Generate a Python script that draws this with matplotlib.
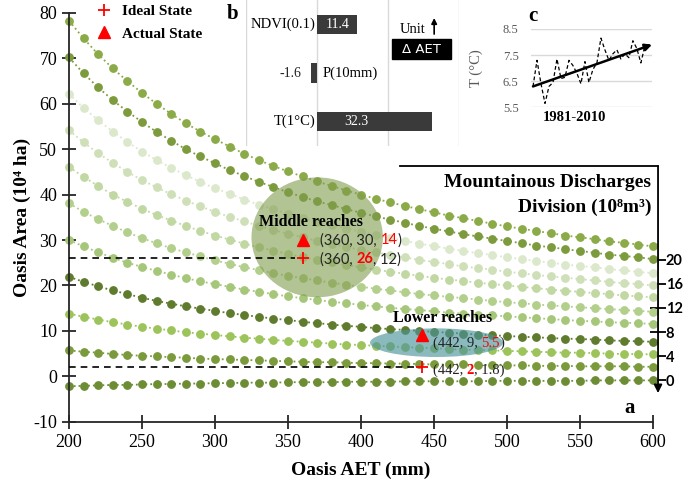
import numpy as np
import matplotlib.pyplot as plt
from matplotlib.patches import Ellipse, Rectangle

plt.rcParams['font.family'] = ['Liberation Serif', 'DejaVu Serif']
plt.rcParams['axes.unicode_minus'] = False

#-----------------------------------------------------------------------------
# Dados

aet = np.arange(200, 601, 10)

area_s1 = [78.3, 74.4, 70.9, 67.8, 65.0, 62.4, 60.0, 57.8, 55.7, 53.9, 52.2, 50.6, 49.0, 47.6, 46.3, 45.1, 44.0, 42.9, 41.9, 40.9, 40.0,
           39.1, 38.3, 37.5, 36.8, 36.1, 35.4, 34.8, 34.2, 33.6, 33.0, 32.5, 32.0, 31.5, 31.0, 30.6, 30.2, 29.7, 29.4, 29.0, 28.6]
area_s2 = [70.2, 66.7, 63.6, 60.8, 58.3, 56.0, 53.8, 51.9, 50.0, 48.4, 46.9, 45.4, 44.1, 42.8, 41.7, 40.5, 39.5, 38.5, 37.7, 36.8, 36.0,
           35.2, 34.5, 33.8, 33.1, 32.5, 31.9, 31.3, 30.8, 30.3, 29.8, 29.3, 28.8, 28.4, 28.0, 27.6, 27.2, 26.8, 26.5, 26.2, 25.8]
area_s3 = [62.2, 59.1, 56.4, 53.9, 51.6, 49.5, 47.6, 45.9, 44.3, 42.8, 41.4, 40.2, 38.9, 37.8, 36.8, 35.8, 34.9, 34.0, 33.3, 32.5, 31.8,
           31.1, 30.4, 29.8, 29.2, 28.7, 28.1, 27.6, 27.1, 26.7, 26.2, 25.8, 25.4, 25.0, 24.6, 24.3, 24.0, 23.6, 23.3, 23.0, 22.7]
area_s4 = [54.2, 51.5, 49.1, 47.0, 45.0, 43.2, 41.6, 40.1, 38.7, 37.4, 36.2, 35.1, 34.1, 33.1, 32.2, 31.4, 30.6, 29.8, 29.1, 28.5, 27.8,
           27.3, 26.7, 26.2, 25.6, 25.2, 24.7, 24.2, 23.8, 23.5, 23.0, 22.7, 22.3, 22.0, 21.7, 21.4, 21.1, 20.8, 20.5, 20.3, 20.0]
area_s5 = [46.1, 43.9, 41.9, 40.0, 38.4, 36.9, 35.5, 34.3, 33.1, 32.0, 31.0, 30.1, 29.2, 28.4, 27.7, 26.9, 26.3, 25.6, 25.1, 24.5, 24.0,
           23.5, 23.0, 22.6, 22.1, 21.7, 21.3, 21.0, 20.6, 20.3, 20.0, 19.7, 19.4, 19.1, 18.8, 18.6, 18.3, 18.1, 17.8, 17.6, 17.4]
area_s6 = [38.1, 36.2, 34.6, 33.1, 31.7, 30.4, 29.3, 28.2, 27.3, 26.4, 25.5, 24.8, 24.0, 23.4, 22.7, 22.1, 21.6, 21.1, 20.6, 20.1, 19.7,
           19.3, 18.9, 18.5, 18.1, 17.8, 17.5, 17.2, 16.9, 16.6, 16.3, 16.1, 15.8, 15.6, 15.4, 15.2, 15.0, 14.8, 14.6, 14.4, 14.2]
area_s7 = [30.0, 28.6, 27.3, 26.1, 25.0, 24.1, 23.2, 22.4, 21.6, 20.9, 20.3, 19.7, 19.1, 18.6, 18.1, 17.6, 17.2, 16.8, 16.4, 16.1, 15.7,
           15.4, 15.1, 14.8, 14.6, 14.3, 14.0, 13.8, 13.6, 13.4, 13.2, 13.0, 12.8, 12.6, 12.4, 12.2, 12.1, 11.9, 11.8, 11.7, 11.5]
area_s8 = [21.9, 20.8, 19.8, 18.9, 18.1, 17.3, 16.6, 16.0, 15.4, 14.9, 14.4, 13.9, 13.5, 13.1, 12.7, 12.4, 12.0, 11.7, 11.4, 11.1, 10.9,
           10.6, 10.4, 10.2, 10.0, 9.8, 9.6, 9.4, 9.2, 9.0, 8.9, 8.7, 8.6, 8.4, 8.3, 8.2, 8.1, 7.9, 7.8, 7.7, 7.6]
area_s9 = [13.8, 13.1, 12.5, 11.9, 11.4, 10.9, 10.5, 10.1, 9.7, 9.4, 9.1, 8.8, 8.5, 8.3, 8.0, 7.8, 7.6, 7.4, 7.2, 7.0, 6.9,
           6.7, 6.6, 6.4, 6.3, 6.2, 6.0, 5.9, 5.8, 5.7, 5.6, 5.5, 5.4, 5.3, 5.2, 5.2, 5.1, 5.0, 4.9, 4.9, 4.8]
area_s10 = [5.7, 5.4, 5.2, 4.9, 4.7, 4.5, 4.4, 4.2, 4.1, 3.9, 3.8, 3.7, 3.6, 3.5, 3.4, 3.3, 3.2, 3.1, 3.1, 3.0, 2.9,
            2.9, 2.8, 2.8, 2.7, 2.6, 2.6, 2.6, 2.5, 2.5, 2.4, 2.4, 2.3, 2.3, 2.3, 2.2, 2.2, 2.2, 2.2, 2.1, 2.1]
area_s11 = [-2.2, -2.1, -2.0, -1.9, -1.9, -1.8, -1.7, -1.7, -1.6, -1.6, -1.5, -1.5, -1.4, -1.4, -1.4, -1.3, -1.3, -1.3, -1.3, -1.2, -1.2,
            -1.2, -1.2, -1.1, -1.1, -1.1, -1.1, -1.1, -1.1, -1.0, -1.0, -1.0, -1.0, -1.0, -1.0, -1.0, -0.9, -0.9, -0.9, -0.9, -0.9]

series = [area_s1, area_s2, area_s3, area_s4, area_s5, area_s6, area_s7, area_s8, area_s9, area_s10, area_s11]
cores = ['#8aab48', '#7c9b3d', '#dce8cc', '#cfe0b9', '#c1d8a2', '#b2cf8b',
         '#a6c77a', '#5f7b2d', '#9cc45b', '#7a9a3c', '#6d8d35']

ideal_x = [360, 442]
ideal_y = [26, 2]
actual_x = [360, 442]
actual_y = [30, 9]

discharge_ticks = [0, 4, 8, 12, 16, 20]

b_labels = ['NDVI(0.1)', 'P(10mm)', 'T(1°C)']
b_values = [11.4, -1.6, 32.3]

anos = np.arange(1981, 2011)
temp = [6.3, 7.3, 6.4, 5.65, 6.3, 6.45, 7.35, 6.6, 6.65, 7.3, 7.1, 6.8, 6.4, 7.25, 6.45,
        6.95, 7.2, 8.15, 7.7, 7.3, 7.55, 7.7, 7.35, 7.55, 7.4, 8.05, 7.75, 7.2, 7.85, 7.9]
tendencia = [6.3, 7.9]

#-----------------------------------------------------------------------------
# Painel principal (a)

fig = plt.figure(figsize=(6.85, 4.83), dpi=100)
ax = fig.add_axes([0.1007, 0.1269, 0.8526, 0.8462])

for ys, c in zip(series, cores):
    ax.plot(aet, ys, ':', color=c, lw=1.3, marker='o', ms=5.3, mec=c, mfc=c,
            clip_on=False, zorder=2)

ax.add_patch(Ellipse((370, 30.6), 90, 26.4, color='#809b4d', alpha=0.6, lw=0, zorder=3))
ax.add_patch(Ellipse((451.7, 7.4), 91, 6.3, color='#4c949b', alpha=0.65, lw=0, zorder=3))

ax.hlines(ideal_y, 200, [355, 437], colors='k', linestyles=(0, (4, 3)), lw=1.2, zorder=4)

ax.plot(ideal_x, ideal_y, '+', color='red', ms=8, mew=1.3, ls='none', label='Ideal State', zorder=5)
ax.plot(actual_x, actual_y, '^', color='red', ms=9, ls='none', label='Actual State', zorder=5)

ax.legend(loc='upper left', bbox_to_anchor=(0.028, 1.035), frameon=False,
          prop={'weight': 'bold', 'size': 11}, handletextpad=0.4, labelspacing=0.55,
          handlelength=1.6, borderaxespad=0)

def texto_cor(x, y, partes, fs, fam):
    t = ax.text(x, y, partes[0][0], color=partes[0][1], fontweight=partes[0][2],
                fontsize=fs, family=fam, va='center', zorder=6)
    for s, c, w in partes[1:]:
        t = ax.annotate(s, xy=(1, 0), xycoords=t, color=c, fontweight=w,
                        fontsize=fs, family=fam, va='bottom', zorder=6)

ax.text(366, 34, 'Middle reaches', ha='center', va='center', fontsize=11.5, fontweight='bold', zorder=6)
texto_cor(372, 30, [('(360, 30, ', '#222222', 'normal'), ('14', 'red', 'normal'), (')', '#222222', 'normal')],
          10.5, 'Lato')
texto_cor(372, 25.8, [('(360, ', '#222222', 'normal'), ('26', 'red', 'bold'), (', 12)', '#222222', 'normal')],
          10.5, 'Lato')
ax.text(456, 12.8, 'Lower reaches', ha='center', va='center', fontsize=11.5, fontweight='bold', zorder=6)
texto_cor(449, 7.3, [('(442, 9, ', '#222222', 'normal'), ('5.5', 'red', 'normal'), (')', '#222222', 'normal')],
          10.5, ['Liberation Serif'])
texto_cor(449, 1.3, [('(442, ', '#222222', 'normal'), ('2', 'red', 'bold'), (', 1.8)', '#222222', 'normal')],
          10.5, ['Liberation Serif'])

ax.set_xlim(200, 600)
ax.set_ylim(-10, 80)
ax.set_xticks(range(200, 601, 50))
ax.set_yticks(range(-10, 81, 10))
ax.spines['top'].set_visible(False)
ax.spines['right'].set_visible(False)
for s in ['left', 'bottom']:
    ax.spines[s].set_linewidth(1.3)
    ax.spines[s].set_color('#262626')
ax.tick_params(direction='inout', length=10, width=1.3, labelsize=13, color='#262626')
ax.set_xlabel('Oasis AET (mm)', fontsize=14, fontweight='bold', labelpad=8)
ax.set_ylabel('Oasis Area (10⁴ ha)', fontsize=14, fontweight='bold', labelpad=2)

# eixo das descargas
secax = ax.secondary_yaxis(1.0086, functions=(lambda y: (y + 0.9) / 1.33, lambda d: d * 1.33 - 0.9))
secax.set_yticks(discharge_ticks)
for s in secax.spines.values():
    s.set_visible(False)
secax.tick_params(direction='inout', length=11, width=1.3, pad=0, labelsize=10.5)
for lab in secax.get_yticklabels():
    lab.set_fontweight('bold')
    lab.set_family('Lato')

ax.annotate('', xy=(1.0086, 0.07), xytext=(1.0086, 0.6256), xycoords='axes fraction',
            arrowprops=dict(arrowstyle='-|>', color='k', lw=1.3, mutation_scale=12, shrinkA=0, shrinkB=0))
ax.plot([0.567, 1.0086], [0.6256, 0.6256], transform=ax.transAxes, color='k', lw=1.3, clip_on=False)
ax.text(0.997, 0.585, 'Mountainous Discharges', transform=ax.transAxes, ha='right', va='center',
        fontsize=14, fontweight='bold')
ax.text(0.997, 0.525, 'Division (10⁸m³)', transform=ax.transAxes, ha='right', va='center',
        fontsize=14, fontweight='bold')
ax.text(0.96, 0.034, 'a', transform=ax.transAxes, ha='center', va='center', fontsize=15, fontweight='bold')

#-----------------------------------------------------------------------------
# Painel b

axb = fig.add_axes([0.3591, 0.6977, 0.311, 0.3023])
axb.set_facecolor('none')
axb.barh(range(3), b_values, height=0.4, color='#3a3a3a', zorder=3)
axb.set_xlim(-20, 40)
axb.set_ylim(2.5, -0.5)
axb.set_xticks([-20, 0, 20, 40])
axb.grid(axis='x', color='#d9d9d9', lw=1)
axb.tick_params(length=0, labelbottom=False, labelleft=False)
for s in axb.spines.values():
    s.set_visible(False)

axb.text(-0.4, 0, b_labels[0], ha='right', va='center', fontsize=10.5)
axb.text(1.5, 1, b_labels[1], ha='left', va='center', fontsize=10.5)
axb.text(-0.4, 2, b_labels[2], ha='right', va='center', fontsize=10.5)
axb.text(b_values[0] / 2, 0, '%.1f' % b_values[0], color='white', ha='center', va='center', fontsize=10, zorder=4)
axb.text(-4.5, 1, '%.1f' % b_values[1], color='#222222', ha='right', va='center', fontsize=10, zorder=4)
axb.text(11, 2, '%.1f' % b_values[2], color='white', ha='center', va='center', fontsize=10, zorder=4)

axb.text(23.3, 0.1, 'Unit', ha='left', va='center', fontsize=10.5)
axb.annotate('', xy=(33, -0.13), xytext=(33, 0.2),
             arrowprops=dict(arrowstyle='-|>', color='k', lw=1.2, mutation_scale=8, shrinkA=0, shrinkB=0))
axb.add_patch(Rectangle((21, 0.307), 16.7, 0.41, color='black', zorder=3, clip_on=False))
axb.text(29.35, 0.51, 'Δ AET', color='white', ha='center', va='center', fontsize=9.5,
         family='DejaVu Sans', zorder=4)
fig.text(0.340, 0.971, 'b', ha='center', va='center', fontsize=15, fontweight='bold')

#-----------------------------------------------------------------------------
# Painel c

axc = fig.add_axes([0.7752, 0.7778, 0.1767, 0.1622])
axc.set_facecolor('none')
axc.plot(anos, temp, color='k', lw=0.9, ls=(0, (3, 2)))
axc.annotate('', xy=(anos[-1] + 0.8, tendencia[1]), xytext=(anos[0], tendencia[0]),
             arrowprops=dict(arrowstyle='-|>', color='k', lw=1.8, mutation_scale=10, shrinkA=0, shrinkB=0))
axc.set_xlim(1980.5, 2010.8)
axc.set_ylim(5.5, 8.5)
axc.set_yticks([5.5, 6.5, 7.5, 8.5])
axc.set_xticks([])
axc.grid(axis='y', color='#d9d9d9', lw=1)
axc.set_axisbelow(True)
for s in axc.spines.values():
    s.set_visible(False)
axc.tick_params(length=0, labelsize=9, labelcolor='#595959', pad=9)
axc.set_ylabel('T (°C)', fontsize=10.5, color='#595959')
axc.yaxis.set_label_coords(-0.4, 0.5)
fig.text(0.778, 0.967, 'c', ha='center', va='center', fontsize=15, fontweight='bold')
fig.text(0.839, 0.7557, '1981-2010', ha='center', va='center', fontsize=10.5, fontweight='bold')

plt.savefig('out.png', dpi=100)
